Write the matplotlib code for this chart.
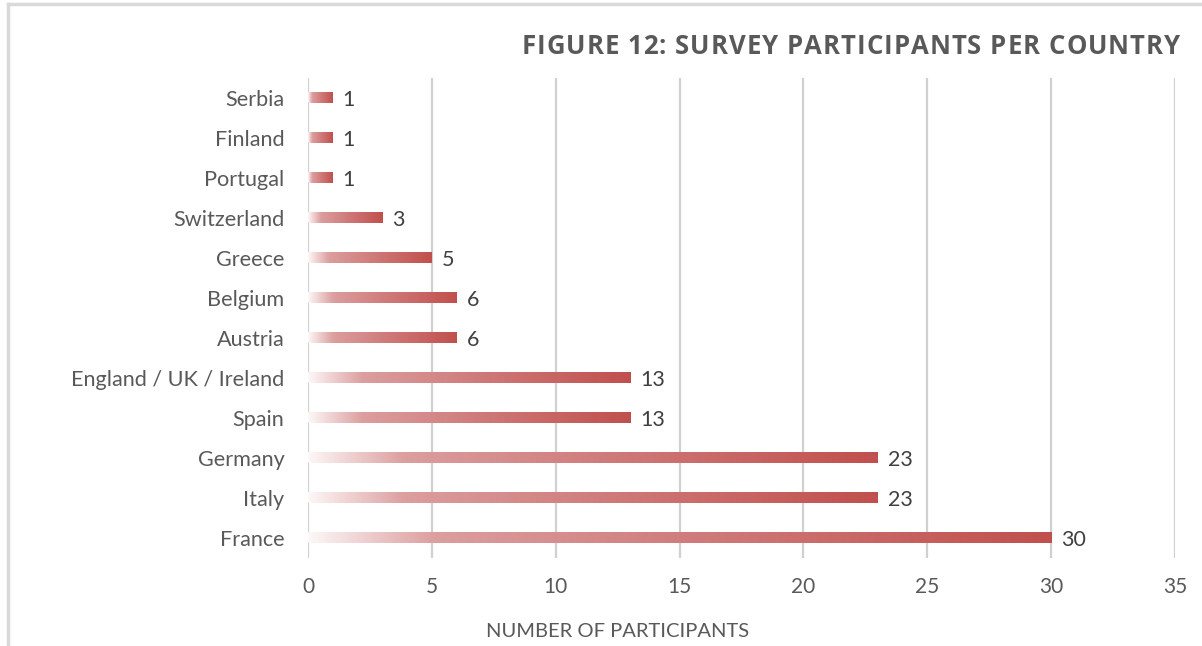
import matplotlib.pyplot as plt
import numpy as np
from matplotlib.colors import LinearSegmentedColormap
from matplotlib.lines import Line2D
from matplotlib.font_manager import FontProperties

countries = ["France", "Italy", "Germany", "Spain", "England / UK / Ireland",
             "Austria", "Belgium", "Greece", "Switzerland", "Portugal",
             "Finland", "Serbia"]
participants = [30, 23, 23, 13, 13, 6, 6, 5, 3, 1, 1, 1]
xticks = [0, 5, 10, 15, 20, 25, 30, 35]

title = "FIGURE 12: SURVEY PARTICIPANTS PER COUNTRY"
xlabel = "NUMBER OF PARTICIPANTS"

fig = plt.figure(figsize=(12.02, 6.46), dpi=100)
ax = fig.add_axes([0.2562, 0.1362, 0.7213, 0.7431])

# frame of the chart area (top and left edge visible)
fig.add_artist(Line2D([0.0066, 1.0], [0.9938, 0.9938], color="#d9d9d9", lw=2.5,
                      transform=fig.transFigure))
fig.add_artist(Line2D([0.0066, 0.0066], [0.0, 0.9938], color="#d9d9d9", lw=2.5,
                      transform=fig.transFigure))

cmap = LinearSegmentedColormap.from_list(
    "bar", [(0.0, "#fdf7f7"), (0.17, "#dc9e9e"), (0.55, "#cf7878"), (1.0, "#c0504d")])
grad = np.linspace(0, 1, 256).reshape(1, -1)

bar_h = 0.25
y = np.arange(len(countries))
for yi, v in zip(y, participants):
    ax.imshow(grad, cmap=cmap, aspect="auto", interpolation="bilinear",
              extent=(0, v, yi - bar_h / 2, yi + bar_h / 2), zorder=3)
    ax.text(v + 0.4, yi - 0.05, str(v), va="center", ha="left",
            fontsize=15.5, color="#404040", family="Lato", zorder=4)

ax.set_xlim(0, 35)
ax.set_ylim(-0.5, len(countries) - 0.5)
ax.set_xticks(xticks)
ax.set_xticklabels([str(t) for t in xticks], fontsize=15, color="#595959", family="Lato")
ax.set_yticks(y)
ax.set_yticklabels(countries, fontsize=15.6, color="#595959", family="Lato")
ax.tick_params(length=0, pad=14, axis="x")
ax.tick_params(length=0, pad=17, axis="y")
ax.xaxis.grid(True, color="#d0d0d0", lw=1.6, zorder=0)
ax.set_axisbelow(True)
for s in ax.spines.values():
    s.set_visible(False)

fig.text(0.514, 0.023, xlabel, ha="center", va="center", fontsize=14.5,
         color="#595959", family="Lato")

# title with letter spacing, right aligned
prop = FontProperties(family="Open Sans", weight="bold", size=18.5)
renderer = fig.canvas.get_renderer()
spacing = 1.0  # px between letters
widths = []
for ch in title:
    if ch == " ":
        w = renderer.get_text_width_height_descent("a a", prop, ismath=False)[0] - \
            renderer.get_text_width_height_descent("aa", prop, ismath=False)[0]
    else:
        w = renderer.get_text_width_height_descent(ch, prop, ismath=False)[0]
    widths.append(w)
total = sum(widths) + spacing * (len(title) - 1)
x_px = 1180 - total
y_px = 646 - 47
for ch, w in zip(title, widths):
    if ch != " ":
        fig.text(x_px / 1202, y_px / 646, ch, ha="left", va="center",
                 fontproperties=prop, color="#595959")
    x_px += w + spacing

fig.savefig("out.png", dpi=100)
